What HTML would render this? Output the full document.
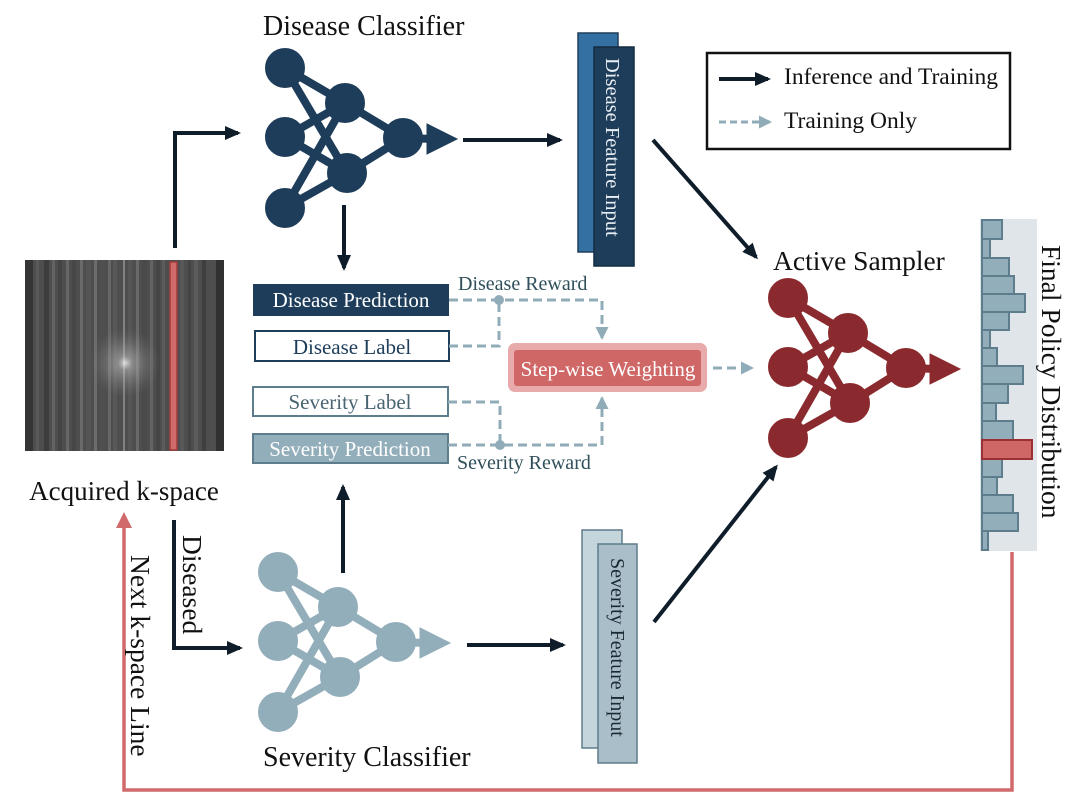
<!DOCTYPE html>
<html><head><meta charset="utf-8"><style>
html,body{margin:0;padding:0;background:#fff;}
svg{display:block;}
text{font-family:"Liberation Serif",serif;}
</style></head><body>
<svg width="1079" height="806" viewBox="0 0 1079 806" xmlns="http://www.w3.org/2000/svg">
<defs>
<marker id="ak" markerWidth="16" markerHeight="14" refX="13" refY="7" orient="auto" markerUnits="userSpaceOnUse" viewBox="0 0 16 14"><path d="M0,0 L16,7 L0,14 z" fill="#0f1d2a"/></marker>
<marker id="ad" markerWidth="13" markerHeight="13" refX="11" refY="6.5" orient="auto" markerUnits="userSpaceOnUse" viewBox="0 0 13 13"><path d="M0,0 L13,6.5 L0,13 z" fill="#91acb9"/></marker>
<marker id="ar" markerWidth="16" markerHeight="16" refX="12" refY="8" orient="auto" markerUnits="userSpaceOnUse" viewBox="0 0 16 16"><path d="M0,0 L16,8 L0,16 z" fill="#d06a6b"/></marker>
<g id="net">
<g stroke-width="8" fill="none">
<line x1="0" y1="0" x2="60" y2="35"/><line x1="0" y1="0" x2="62" y2="105"/>
<line x1="0" y1="69" x2="60" y2="35"/><line x1="0" y1="69" x2="62" y2="105"/>
<line x1="60" y1="35" x2="0" y2="140"/><line x1="60" y1="35" x2="118" y2="70"/>
<line x1="62" y1="105" x2="118" y2="70"/><line x1="0" y1="140" x2="62" y2="105"/>
<line x1="118" y1="70" x2="150" y2="71"/>
</g>
<circle cx="0" cy="0" r="19.5"/><circle cx="60" cy="35" r="19.5"/><circle cx="0" cy="69" r="19.5"/>
<circle cx="118" cy="70" r="19.5"/><circle cx="62" cy="105" r="19.5"/><circle cx="0" cy="140" r="19.5"/>
<path d="M142,56 L172,71 L142,86 z"/>
</g>
<radialGradient id="glow" cx="0.5" cy="0.5" r="0.5">
<stop offset="0" stop-color="#fff" stop-opacity="1"/><stop offset="0.2" stop-color="#ccc" stop-opacity="0.6"/><stop offset="1" stop-color="#888" stop-opacity="0"/>
</radialGradient>
</defs>

<!-- k-space -->
<rect x="25" y="260" width="199" height="191" fill="#4e4e4e"/>
<g opacity="0.9">
<rect x="25" y="260" width="8" height="191" fill="#333"/>
<rect x="36" y="260" width="3" height="191" fill="#5c5c5c"/>
<rect x="44" y="260" width="5" height="191" fill="#3c3c3c"/>
<rect x="52" y="260" width="3" height="191" fill="#666"/>
<rect x="58" y="260" width="4" height="191" fill="#444"/>
<rect x="66" y="260" width="3" height="191" fill="#6a6a6a"/>
<rect x="72" y="260" width="4" height="191" fill="#474747"/>
<rect x="80" y="260" width="3" height="191" fill="#6e6e6e"/>
<rect x="86" y="260" width="5" height="191" fill="#555"/>
<rect x="94" y="260" width="3" height="191" fill="#707070"/>
<rect x="100" y="260" width="4" height="191" fill="#505050"/>
<rect x="108" y="260" width="3" height="191" fill="#6a6a6a"/>
<rect x="113" y="260" width="4" height="191" fill="#5a5a5a"/>
<rect x="123" y="260" width="2" height="191" fill="#888"/>
<rect x="128" y="260" width="4" height="191" fill="#575757"/>
<rect x="136" y="260" width="3" height="191" fill="#6c6c6c"/>
<rect x="142" y="260" width="5" height="191" fill="#4a4a4a"/>
<rect x="150" y="260" width="3" height="191" fill="#666"/>
<rect x="156" y="260" width="4" height="191" fill="#454545"/>
<rect x="162" y="260" width="3" height="191" fill="#5e5e5e"/>
<rect x="180" y="260" width="4" height="191" fill="#5a5a5a"/>
<rect x="188" y="260" width="3" height="191" fill="#444"/>
<rect x="194" y="260" width="4" height="191" fill="#5e5e5e"/>
<rect x="202" y="260" width="4" height="191" fill="#3e3e3e"/>
<rect x="210" y="260" width="3" height="191" fill="#505050"/>
<rect x="216" y="260" width="8" height="191" fill="#2e2e2e"/>
</g>
<circle cx="125" cy="363" r="35" fill="url(#glow)" opacity="0.8"/>
<rect x="170" y="262" width="7" height="188" fill="#d06a6b" stroke="#a33a3a" stroke-width="1.5"/>
<text x="124" y="500" font-size="27" text-anchor="middle" fill="#111">Acquired k-space</text>

<!-- Titles -->
<text x="263" y="35" font-size="28" fill="#111">Disease Classifier</text>
<text x="773" y="270" font-size="27.5" fill="#111">Active Sampler</text>
<text x="263" y="766" font-size="28" fill="#111">Severity Classifier</text>

<!-- nets -->
<use href="#net" x="285" y="68" fill="#1e3d5a" stroke="#1e3d5a"/>
<use href="#net" x="278" y="572" fill="#93aebb" stroke="#93aebb"/>
<use href="#net" x="788" y="298" fill="#8b2a2e" stroke="#8b2a2e"/>

<!-- feature inputs -->
<rect x="578" y="33" width="40" height="219" fill="#3570a3" stroke="#1e3d5a" stroke-width="1.5"/>
<rect x="594" y="47" width="40" height="219" fill="#1e3d5a" stroke="#142c42" stroke-width="1.5"/>
<text transform="translate(606,58) rotate(90)" font-size="20.5" fill="#e8eef3">Disease Feature Input</text>
<rect x="582" y="530" width="40" height="218" fill="#c5d5dc" stroke="#5e7d8c" stroke-width="1.5"/>
<rect x="598" y="544" width="39" height="219" fill="#a9bec8" stroke="#5e7d8c" stroke-width="1.5"/>
<text transform="translate(611,558) rotate(90)" font-size="20" fill="#1a2a33">Severity Feature Input</text>

<!-- black arrows -->
<g stroke="#0f1d2a" stroke-width="4" fill="none">
<path d="M175,248 L175,133 L238,133" marker-end="url(#ak)"/>
<line x1="344" y1="205" x2="344" y2="268" marker-end="url(#ak)"/>
<line x1="463" y1="140" x2="560" y2="140" marker-end="url(#ak)"/>
<line x1="467" y1="645" x2="563" y2="645" marker-end="url(#ak)"/>
<line x1="343" y1="573" x2="343" y2="487" marker-end="url(#ak)"/>
<path d="M174,520 L174,648 L240,648" marker-end="url(#ak)"/>
<line x1="653" y1="140" x2="756" y2="257" marker-end="url(#ak)"/>
<line x1="654" y1="622" x2="776" y2="467" marker-end="url(#ak)"/>
</g>

<!-- red feedback -->
<path d="M1012,552 L1012,790 L124,790 L124,516" stroke="#d06a6b" stroke-width="3.5" fill="none" marker-end="url(#ar)"/>

<!-- boxes -->
<rect x="253" y="284" width="196" height="32" fill="#1e3d5a"/>
<text x="351" y="307" font-size="21" text-anchor="middle" fill="#fff">Disease Prediction</text>
<rect x="255" y="331" width="194" height="30" fill="#fff" stroke="#1e3d5a" stroke-width="2"/>
<text x="352" y="354" font-size="21" text-anchor="middle" fill="#1e3d5a">Disease Label</text>
<rect x="253" y="387" width="195" height="29" fill="#fff" stroke="#5e7d8c" stroke-width="2"/>
<text x="350" y="409" font-size="21" text-anchor="middle" fill="#4a6472">Severity Label</text>
<rect x="253" y="434" width="195" height="29" fill="#93aebb" stroke="#5e7d8c" stroke-width="2"/>
<text x="350" y="456" font-size="21" text-anchor="middle" fill="#fff">Severity Prediction</text>

<rect x="508" y="343" width="199" height="49" rx="7" fill="#e8aaaa"/>
<rect x="514" y="350" width="187" height="36" rx="3" fill="#d06767"/>
<text x="608" y="376" font-size="21" text-anchor="middle" fill="#fff">Step-wise Weighting</text>

<!-- dashed -->
<g stroke="#91acb9" stroke-width="3" fill="none" stroke-dasharray="9,5">
<path d="M449,300 L602,300 L602,338" marker-end="url(#ad)"/>
<path d="M449,346 L499,346 L499,300"/>
<path d="M448,402 L500,402 L500,445"/>
<path d="M448,445 L602,445 L602,398" marker-end="url(#ad)"/>
<line x1="713" y1="368" x2="752" y2="368" marker-end="url(#ad)"/>
</g>
<circle cx="499" cy="300" r="5" fill="#91acb9"/>
<circle cx="500" cy="445" r="5" fill="#91acb9"/>
<text x="458" y="290" font-size="20" fill="#2f4f5a">Disease Reward</text>
<text x="457" y="469" font-size="20" fill="#2f4f5a">Severity Reward</text>

<!-- histogram -->
<rect x="980" y="219" width="57" height="332" fill="#dfe5e9"/>
<g fill="#93aebb" stroke="#5e7d8c" stroke-width="2">
<rect x="982" y="220" width="20" height="19"/>
<rect x="982" y="239" width="8" height="19"/>
<rect x="982" y="258" width="27" height="18"/>
<rect x="982" y="276" width="32" height="18"/>
<rect x="982" y="294" width="43" height="18"/>
<rect x="982" y="312" width="27" height="18"/>
<rect x="982" y="330" width="8" height="18"/>
<rect x="982" y="348" width="15" height="18"/>
<rect x="982" y="366" width="41" height="18"/>
<rect x="982" y="384" width="26" height="19"/>
<rect x="982" y="403" width="14" height="18"/>
<rect x="982" y="421" width="31" height="19"/>
<rect x="982" y="459" width="20" height="18"/>
<rect x="982" y="477" width="15" height="18"/>
<rect x="982" y="495" width="31" height="18"/>
<rect x="982" y="513" width="36" height="18"/>
<rect x="982" y="531" width="6" height="19"/>
</g>
<rect x="982" y="440" width="50" height="19" fill="#d06767" stroke="#9c2f33" stroke-width="2"/>
<text transform="translate(1042,245) rotate(90)" font-size="27.5" fill="#111">Final Policy Distribution</text>

<!-- vertical labels -->
<text transform="translate(131,555) rotate(90)" font-size="27.5" fill="#111">Next k-space Line</text>
<text transform="translate(183,535) rotate(90)" font-size="27.5" fill="#111">Diseased</text>

<!-- legend -->
<rect x="707" y="53" width="303" height="96" fill="#fff" stroke="#111" stroke-width="2.5"/>
<line x1="719" y1="79" x2="768" y2="79" stroke="#0f1d2a" stroke-width="4" marker-end="url(#ak)"/>
<line x1="719" y1="122" x2="770" y2="122" stroke="#91acb9" stroke-width="3" stroke-dasharray="7,4" marker-end="url(#ad)"/>
<text x="784" y="84" font-size="23.5" fill="#111">Inference and Training</text>
<text x="784" y="128" font-size="23.5" fill="#111">Training Only</text>
</svg>
</body></html>
